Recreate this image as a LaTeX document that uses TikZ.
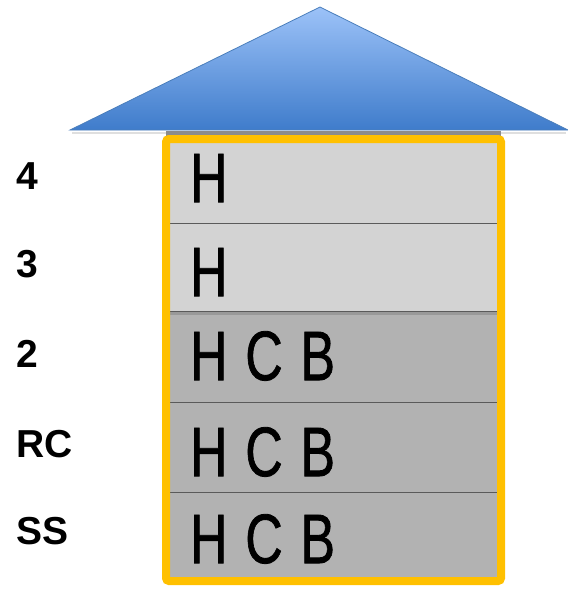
\documentclass[tikz,border=0pt]{standalone}
\usepackage{fontspec}
\setmainfont{Liberation Sans}
\newfontfamily\letterfont[FakeBold=1.2]{Liberation Sans}
\usetikzlibrary{shadings}
\definecolor{lightrow}{HTML}{D3D3D3}
\definecolor{darkrow}{HTML}{B2B2B2}
\definecolor{sepline}{HTML}{5A5A5A}
\definecolor{frame}{HTML}{FFC000}
\definecolor{roofedge}{HTML}{4A7EBB}
\definecolor{rooftop}{HTML}{9CC2F8}
\definecolor{roofbot}{HTML}{3F7CCB}
\newcommand{\bigletters}[1]{\scalebox{0.74}[1]{\letterfont\fontsize{70}{70}\selectfont #1}}
\tikzset{
  floorlabel/.style={anchor=west, font=\bfseries\fontsize{39}{39}\selectfont, inner sep=0pt},
  rowtext/.style={anchor=west, inner sep=0pt},
  rowbox/.style={draw=none, inner sep=0pt, minimum width=327pt, anchor=north west},
}
\begin{document}
\begin{tikzpicture}[x=1pt,y=-1pt]
\useasboundingbox (0,0) rectangle (568,590);
% roof shadow
\fill[black!25, opacity=0.5] (72,132) -- (566,132) -- (566,134) -- (72,134) -- cycle;
% roof
\shade[top color=rooftop, bottom color=roofbot, draw=roofedge, line width=0.8pt, line join=miter]
  (320,7) -- (568,130) -- (70,130) -- cycle;
% box shadow
\fill[black!45] (166,131) rectangle (501,136);
% rows
\node[rowbox, fill=lightrow, minimum height=80pt] (r4) at (170,143) {};
\node[rowbox, fill=lightrow, minimum height=88pt] (r3) at (170,223) {};
\node[rowbox, fill=darkrow, minimum height=91pt] (r2) at (170,311) {};
\node[rowbox, fill=darkrow, minimum height=90pt] (rc) at (170,402) {};
\node[rowbox, fill=darkrow, minimum height=85pt] (ss) at (170,492) {};
% separators
\draw[sepline, line width=1.5pt] (r4.south west) -- (r4.south east);
\fill[black!40] (170,311) rectangle (497,315);
\draw[sepline, line width=1.5pt] (r3.south west) -- (r3.south east);
\draw[sepline, line width=1.5pt] (r2.south west) -- (r2.south east);
\draw[sepline, line width=1.5pt] (rc.south west) -- (rc.south east);
% frame
\draw[frame, line width=8pt, rounded corners=3pt] (166,139) rectangle (501,581);
% row texts
\node[rowtext] (t4) at (190,178) {\bigletters{H}};
\node[rowtext] (t3) at (190,272) {\bigletters{H}};
\node[rowtext] (t2) at (190,356) {\bigletters{H\hspace{24pt}C\hspace{24pt}B}};
\node[rowtext] (trc) at (190,452) {\bigletters{H\hspace{24pt}C\hspace{24pt}B}};
\node[rowtext] (tss) at (190,539) {\bigletters{H\hspace{24pt}C\hspace{24pt}B}};
% floor labels
\node[floorlabel] (l4) at (16,176) {4};
\node[floorlabel] (l3) at (16,264) {3};
\node[floorlabel] (l2) at (16,354) {2};
\node[floorlabel] (lrc) at (16,444) {RC};
\node[floorlabel] (lss) at (16,531) {SS};
\end{tikzpicture}
\end{document}
